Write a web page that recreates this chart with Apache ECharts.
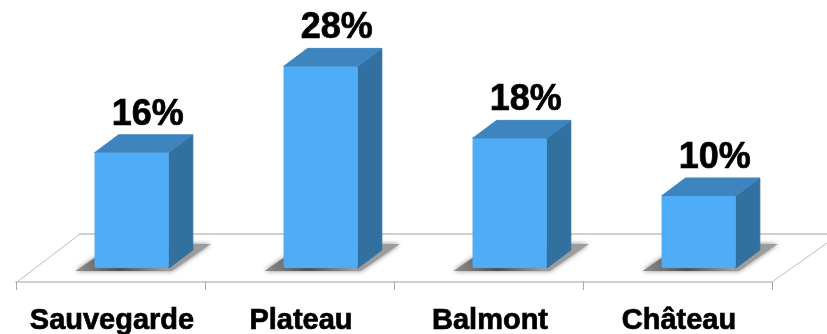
<!DOCTYPE html>
<html><head><meta charset="utf-8">
<style>html,body{margin:0;padding:0;background:#fff}#c{width:827px;height:334px}</style>
<script src="https://cdn.jsdelivr.net/npm/echarts@6/dist/echarts.min.js"></script>
</head><body><div id="c"></div>
<script>
const categories = ['Sauvegarde', 'Plateau', 'Balmont', 'Château'];
const values = [16, 28, 18, 10];

const FRONT = '#4FACF6', TOP = '#3E85BF', SIDE = '#31709F', FLOOR = '#CFCFCF';
const DX = 24, DY = 18, BAR_W = 0.393, BAR_SHIFT = 0.112, FLOOR_DROP = 14;

const chart = echarts.init(document.getElementById('c'), null, {renderer: 'canvas'});

function renderFloor(params, api) {
  const cs = params.coordSys;
  const front = cs.y + cs.height + FLOOR_DROP;
  const back = cs.y + cs.height - 34;
  const left = cs.x, right = cs.x + cs.width;
  return {type: 'group', silent: true, children: [
    {type: 'line', shape: {x1: left + 63, y1: back, x2: 827, y2: back}, style: {stroke: FLOOR, lineWidth: 2}},
    {type: 'line', shape: {x1: left + 1, y1: front, x2: left + 64, y2: back}, style: {stroke: '#BDBDBD', lineWidth: 1}},
    {type: 'line', shape: {x1: right, y1: front, x2: 827, y2: front - 39}, style: {stroke: '#BDBDBD', lineWidth: 1}}
  ]};
}

function renderBar(params, api) {
  const band = api.size([1, 0])[0];
  const c = api.coord([api.value(0), api.value(1)]);
  const base = api.coord([api.value(0), 0])[1];
  const w = band * BAR_W;
  const L = c[0] + band * BAR_SHIFT - w / 2, R = L + w, T = c[1];
  return {type: 'group', children: [
    {type: 'polygon', silent: true,
     shape: {points: [[L - 19, base + 3], [R + 3, base + 3], [R + 42, base - 24], [R + 18, base - 24], [L, base - 10]]},
     style: {fill: {type: 'linear', x: 0, y: 1, x2: 0.6, y2: 0, colorStops: [
        {offset: 0, color: '#8E8E8E'}, {offset: 0.5, color: '#505050'}, {offset: 1, color: '#9C9C9C'}]},
        shadowBlur: 5, shadowColor: 'rgba(120,120,120,0.9)'}},
    {type: 'polygon', shape: {points: [[R, T], [R + DX, T - DY], [R + DX, base - DY], [R, base]]}, style: {fill: SIDE, stroke: SIDE, lineWidth: 1, lineJoin: 'round'}},
    {type: 'polygon', shape: {points: [[L, T], [L + DX, T - DY], [R + DX, T - DY], [R, T]]}, style: {fill: TOP, stroke: TOP, lineWidth: 1, lineJoin: 'round'}},
    {type: 'rect', shape: {x: L, y: T, width: w, height: base - T, r: 2}, style: {fill: FRONT}},
    {type: 'text', style: {x: (L + R) / 2 + 16, y: T - DY - 2, text: api.value(1) + '%',
      font: 'bold 36px "Liberation Sans"', fill: '#000', stroke: '#000', lineWidth: 0.7, align: 'center', verticalAlign: 'bottom'}}
  ]};
}

chart.setOption({
  animation: false,
  backgroundColor: '#fff',
  grid: {left: 16, right: 55, top: 16, bottom: 66, outerBoundsMode: 'none'},
  xAxis: {
    type: 'category', data: categories, offset: FLOOR_DROP,
    axisLine: {onZero: false, lineStyle: {color: FLOOR, width: 2}},
    axisTick: {show: true, alignWithLabel: false, length: 8, lineStyle: {color: '#A8A8A8', width: 1}},
    axisLabel: {color: '#000', fontFamily: 'Liberation Sans', fontWeight: 'bold', fontSize: 29, margin: 24, interval: 0,
      padding: [0, 0, 0, 3], textBorderColor: '#000', textBorderWidth: 0.7}
  },
  yAxis: {type: 'value', min: 0, max: 35, show: false, splitLine: {show: false}},
  series: [
    {type: 'custom', renderItem: renderFloor, data: [[0, 0]], z: 1, encode: {x: 0, y: 1}},
    {type: 'custom', renderItem: renderBar, z: 2, encode: {x: 0, y: 1},
     data: values.map((v, i) => [i, v])}
  ]
});
</script></body></html>
